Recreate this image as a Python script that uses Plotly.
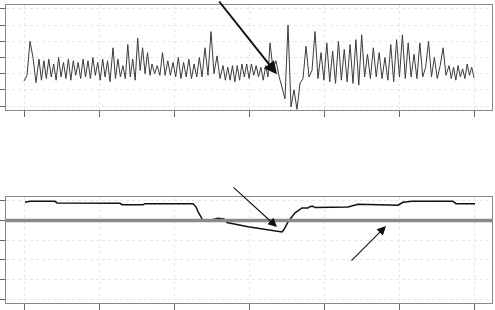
import numpy as np
import plotly.graph_objects as go

# ---- data ----
x_ticks = [0, 75, 150, 225, 300, 375, 450]
top_y_ticks = [0, 1, 2, 3, 4, 5, 6]
bot_y_ticks = [-4, -3, -2, -1, 0, 1]

# top series, read piecewise: (x start, x end, values)
top_seg1 = [1.55, 1.9, 4.0, 3.0, 1.45]
top_seg2 = [2.9, 1.6, 2.8, 1.7, 2.9, 1.8, 2.6, 1.6, 3.0, 1.8, 2.7, 1.7, 2.9, 1.6, 2.8,
            1.9, 2.7, 1.7, 2.9, 1.8, 2.8, 1.7, 3.0, 1.9, 2.7, 1.6, 2.9, 1.8, 2.8, 1.5]
top_seg3 = [3.6, 1.7, 2.9, 1.8, 2.5, 1.7, 3.8, 1.8, 2.9, 1.6, 4.2, 2.2, 3.6, 2.0, 3.3, 1.9]
top_seg4 = [2.6, 2.0, 2.5, 1.9, 3.3, 1.9, 2.8, 1.9, 2.7, 1.8, 3.0, 1.7, 2.7, 1.8, 2.9,
            1.7, 2.6, 1.8, 3.0, 1.8]
top_seg5 = [3.6, 1.9, 4.6, 2.0, 3.1, 1.7]
top_seg6 = [2.5, 1.6, 2.4, 1.6, 2.5, 1.5, 2.5, 1.6, 2.6, 1.8, 2.6, 1.7, 2.6, 1.9, 2.5,
            1.8, 2.4, 1.6, 2.5, 1.8]
top_seg7 = [3.9, 2.3, 2.8, 1.85, 1.2, 0.45, 5.0, -0.05, 1.0, -0.2, 1.4, 1.7, 3.7, 1.8,
            2.2, 4.6, 1.7]
top_seg8 = [3.3, 1.6, 3.9, 1.5, 3.4, 1.4, 4.0, 1.6, 3.5, 1.5, 3.8, 1.4, 4.1, 1.3, 4.4,
            1.8, 3.2, 1.7, 3.6, 1.8, 3.3, 1.7, 3.0, 1.6, 3.8, 1.5, 4.1, 1.8, 4.4, 1.7,
            3.9, 1.8, 3.2, 1.7, 3.9, 1.8, 2.4, 4.0, 1.8, 3.0, 1.7, 2.5, 3.6, 1.9]
top_seg9 = [2.5, 1.7, 2.4, 1.6, 2.5, 1.8, 2.3, 1.7, 2.6, 1.9, 2.4, 1.75]
top_seg_starts = [0, 15, 89, 128, 181, 199, 246, 297, 425]
top_seg_ends = [12, 86, 126, 178, 196, 244, 294, 422, 450]

bot_x = [1, 6, 31, 33, 96, 98, 119, 121, 169, 172, 174, 179, 189, 194, 200, 203, 224,
         241, 258, 260, 264, 271, 278, 284, 286, 289, 291, 324, 334, 374, 379, 388, 429,
         432, 451]
bot_y = [0.93, 0.98, 0.98, 0.9, 0.88, 0.81, 0.81, 0.86, 0.86, 0.7, 0.45, 0.0, 0.05,
         0.12, 0.08, -0.1, -0.32, -0.46, -0.58, -0.46, -0.07, 0.39, 0.64, 0.64, 0.72,
         0.73, 0.66, 0.69, 0.83, 0.78, 0.93, 0.98, 0.98, 0.86, 0.86]

segs = [top_seg1, top_seg2, top_seg3, top_seg4, top_seg5, top_seg6, top_seg7, top_seg8, top_seg9]
top_x, top_y = [], []
for s0, s1, vals in zip(top_seg_starts, top_seg_ends, segs):
    top_x.extend(np.linspace(s0, s1, len(vals)).tolist())
    top_y.extend(vals)

W, H = 495, 310

fig = go.Figure()
fig.add_trace(go.Scatter(x=top_x, y=top_y, mode="lines",
                         line=dict(color="#3c3c3c", width=1), xaxis="x", yaxis="y",
                         showlegend=False, hoverinfo="skip"))
fig.add_trace(go.Scatter(x=bot_x, y=bot_y, mode="lines",
                         line=dict(color="#111111", width=1.5), xaxis="x2", yaxis="y2",
                         showlegend=False, hoverinfo="skip"))

axis_common = dict(showticklabels=False, ticks="outside", ticklen=6, tickcolor="#666",
                   tickwidth=1, showline=True, linecolor="#888", linewidth=1, mirror=True,
                   showgrid=True, gridcolor="#e8e8e8", griddash="dot", gridwidth=1,
                   zeroline=False, fixedrange=True)

xdom = [6 / W, 492 / W]
fig.update_layout(
    width=W, height=H, margin=dict(l=0, r=0, t=0, b=0),
    paper_bgcolor="white", plot_bgcolor="white",
    xaxis=dict(domain=xdom, range=[-18, 468], tickvals=x_ticks, anchor="y", **axis_common),
    yaxis=dict(domain=[1 - 110 / H, 1 - 5 / H], range=[-0.24, 6.24], tickvals=top_y_ticks,
               anchor="x", **axis_common),
    xaxis2=dict(domain=xdom, range=[-18, 468], tickvals=x_ticks, anchor="y2", **axis_common),
    yaxis2=dict(domain=[1 - 303 / H, 1 - 197 / H], range=[-4.2, 1.2], tickvals=bot_y_ticks,
                anchor="x2", **axis_common),
)

fig.add_shape(type="line", xref="x2 domain", yref="y2", x0=0, x1=1, y0=0, y1=0,
              line=dict(color="#8a8a8a", width=3.5), layer="above")

# arrows
fig.add_annotation(x=253, y=1.96, xref="x", yref="y", ax=-59, ay=-76, text="",
                   showarrow=True, arrowhead=2, arrowsize=1.3, arrowwidth=2, arrowcolor="#111")
fig.add_annotation(x=253, y=-0.33, xref="x2", yref="y2", ax=-45, ay=-41, text="",
                   showarrow=True, arrowhead=2, arrowsize=1.6, arrowwidth=1.1, arrowcolor="#111")
fig.add_annotation(x=362, y=-0.28, xref="x2", yref="y2", ax=-36, ay=36, text="",
                   showarrow=True, arrowhead=2, arrowsize=1.6, arrowwidth=1.1, arrowcolor="#111")

fig.write_html("out.html")
